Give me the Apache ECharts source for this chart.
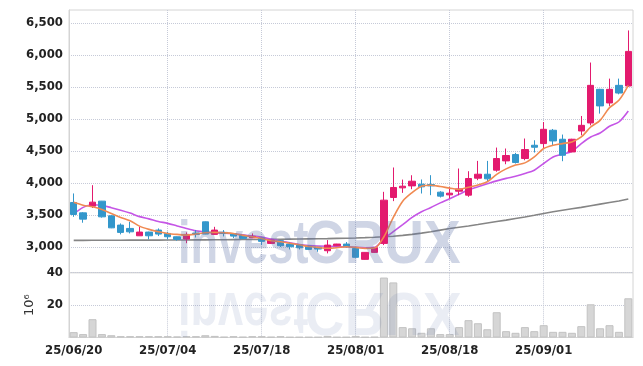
<!DOCTYPE html>
<html><head><meta charset="utf-8">
<script src="https://cdn.jsdelivr.net/npm/echarts@6/dist/echarts.min.js"></script>
<style>html,body{margin:0;padding:0;background:#fff}#c{width:643px;height:366px}</style>
</head><body><div id="c"></div>
<script>
const dates = ['25/06/20','25/06/23','25/06/24','25/06/25','25/06/26','25/06/27','25/06/30','25/07/01','25/07/02','25/07/03',
'25/07/04','25/07/07','25/07/08','25/07/09','25/07/10','25/07/11','25/07/14','25/07/15','25/07/16','25/07/17',
'25/07/18','25/07/21','25/07/22','25/07/23','25/07/24','25/07/25','25/07/28','25/07/29','25/07/30','25/07/31',
'25/08/01','25/08/04','25/08/05','25/08/06','25/08/07','25/08/08','25/08/11','25/08/12','25/08/13','25/08/14',
'25/08/18','25/08/19','25/08/20','25/08/21','25/08/22','25/08/25','25/08/26','25/08/27','25/08/28','25/08/29',
'25/09/01','25/09/02','25/09/03','25/09/04','25/09/05','25/09/08','25/09/09','25/09/10','25/09/11','25/09/12'];
const openP  = [3696,3534,3639,3717,3488,3343,3291,3176,3234,3265, 3213,3161,3125,3218,3394,3198,3229,3208,3182,3145,
                3140,3057,3099,3047,3031,3016,3000,2943,3021,3047, 2979,2808,2917,3057,3774,3924,3955,3982,3976,3857,
                3815,3872,3810,4075,4137,4200,4345,4444,4382,4589, 4615,4823,4683,4485,4812,4937,5462,5249,5524,5514];
const closeP = [3509,3436,3701,3472,3300,3229,3238,3234,3176,3203, 3161,3120,3198,3198,3203,3265,3213,3171,3135,3166,
                3089,3109,3021,3005,2989,2964,2969,3031,3047,3005, 2840,2917,2990,3732,3930,3950,4028,3940,3955,3795,
                3841,3908,4070,4137,4065,4382,4429,4320,4522,4558, 4838,4656,4433,4683,4900,5524,5203,5462,5404,6054];
const lowP   = [3472,3380,3610,3460,3295,3198,3213,3176,3120,3172, 3120,3100,3060,3150,3200,3195,3166,3140,3130,3140,
                3031,3050,3000,2963,2963,2955,2927,2902,3018,2990, 2835,2805,2912,3031,3717,3846,3903,3836,3810,3774,
                3758,3810,3784,4044,4018,4176,4293,4304,4355,4475, 4538,4589,4340,4480,4745,4900,5083,5203,5384,5498];
const highP  = [3837,3545,3966,3720,3495,3369,3394,3316,3240,3291, 3239,3165,3230,3265,3400,3316,3265,3210,3185,3213,
                3145,3112,3102,3078,3047,3020,3003,3109,3050,3078, 2982,2920,2995,3862,4242,4053,4121,4055,4122,3872,
                3940,4226,4184,4345,4345,4553,4538,4470,4694,4667, 4952,4843,4756,4690,5046,5880,5470,5629,5629,6381];
const ma5    = [3700,3654,3628,3587,3525,3463,3410,3327,3276,3238, 3213,3198,3187,3203,3223,3229,3223,3213,3182,3161,
                3135,3100,3083,3060,3035,3010,2995,2982,2990,3005, 2995,2979,2985,3161,3463,3715,3850,3950,3965,3945,
                3920,3899,3935,3970,4020,4135,4220,4280,4314,4407, 4538,4589,4615,4641,4718,4874,4978,5176,5290,5524];
const ma20   = [3515,3620,3660,3650,3615,3575,3530,3475,3440,3400, 3370,3330,3290,3255,3235,3222,3215,3205,3190,3175,
                3155,3125,3095,3065,3040,3025,3016,3012,3010,3005, 2995,2990,2995,3130,3240,3350,3463,3550,3618,3690,
                3755,3823,3894,3940,3987,4033,4072,4105,4148,4200, 4304,4407,4449,4496,4615,4718,4781,4885,4952,5124];
const ma120  = [3105,3105,3106,3106,3107,3107,3108,3108,3109,3109, 3110,3110,3111,3112,3113,3114,3115,3116,3117,3118,
                3120,3121,3122,3124,3126,3128,3130,3132,3135,3138, 3142,3147,3153,3160,3170,3183,3198,3218,3240,3265,
                3290,3310,3330,3352,3375,3398,3420,3445,3470,3497, 3525,3550,3575,3598,3620,3645,3670,3695,3720,3750];
const volume = [3.3,2.1,11.3,2.1,1.4,0.8,0.8,0.8,0.8,0.8, 0.8,0.6,0.8,0.8,1.4,1.0,0.4,0.8,0.4,0.8,
                0.8,0.4,0.8,0.3,0.3,0.3,0.3,1.0,0.3,0.3, 1.0,0.3,0.4,37,34,6.4,5.7,2.9,5.7,2.1,
                2.1,6.4,10.7,8.8,5.1,15.6,3.9,2.9,6.4,3.9, 7.6,3.5,3.5,2.9,7.0,20.5,5.7,7.6,3.5,24.2];
const priceTicks = [3000,3500,4000,4500,5000,5500,6000,6500];
const volTicks = [0,20,40];

const FONT = '"Liberation Sans Narrow","DejaVu Sans Condensed","Liberation Sans",sans-serif';
const candles = dates.map((d,i)=>[openP[i],closeP[i],lowP[i],highP[i]]);
const vSplit = {show:true, interval:(i)=> i%10===0 && i>0, alignWithLabel:true,
  lineStyle:{color:'#c6cad8', type:'dotted', width:1}};
const hSplit = {show:true, lineStyle:{color:'#c6cad8', type:'dotted', width:1}};
const fmt = v => String(v).replace(/\B(?=(\d{3})+(?!\d))/g, ',');

const wmFill = 'rgba(95,115,170,0.30)';
const wmFill2 = 'rgba(95,115,170,0.13)';
const wmFont = 'bold 61px "Liberation Sans", sans-serif';

const chart = echarts.init(document.getElementById('c'), null, {renderer:'canvas'});
chart.setOption({
  animation:false,
  backgroundColor:'#fff',
  grid:[
    {left:69, right:10, top:10, height:262.7, show:true, borderColor:'#d4d4d4', borderWidth:1},
    {left:69, right:10, top:272.7, height:64.8, show:true, borderColor:'#d4d4d4', borderWidth:1}
  ],
  xAxis:[
    {type:'category', gridIndex:0, data:dates, boundaryGap:true,
     axisLabel:{show:false}, axisTick:{show:false, alignWithLabel:true}, axisLine:{show:false}, splitLine:vSplit},
    {type:'category', gridIndex:1, data:dates, boundaryGap:true,
     axisLabel:{interval:9, color:'#222', fontSize:13, fontWeight:'bold', fontFamily:FONT, margin:7},
     axisTick:{show:false, alignWithLabel:true}, axisLine:{show:true, lineStyle:{color:'#d4d4d4'}}, splitLine:vSplit}
  ],
  yAxis:[
    {type:'value', gridIndex:0, min:2600, max:6700, scale:true,
     axisLabel:{customValues:priceTicks, formatter:fmt, color:'#222', fontSize:13, fontWeight:'bold', fontFamily:FONT, margin:6},
     axisTick:{show:false, customValues:priceTicks}, axisLine:{show:true, lineStyle:{color:'#d4d4d4'}}, splitLine:hSplit},
    {type:'value', gridIndex:1, min:0, max:40, interval:20,
     name:'10\u2076', nameLocation:'middle', nameRotate:90, nameGap:27,
     nameTextStyle:{color:'#333', fontSize:13, fontFamily:'"DejaVu Sans", sans-serif'},
     axisLabel:{formatter:v=> v===0?'':String(v), color:'#222', fontSize:13, fontWeight:'bold', fontFamily:FONT, margin:6},
     axisTick:{show:false}, axisLine:{show:true, lineStyle:{color:'#d4d4d4'}}, splitLine:hSplit}
  ],
  series:[
    {type:'line', name:'MA120', xAxisIndex:0, yAxisIndex:0, data:ma120, symbol:'none', z:3,
     lineStyle:{color:'#858585', width:1.6}},
    {type:'line', name:'MA20', xAxisIndex:0, yAxisIndex:0, data:ma20, symbol:'none', smooth:0.3, z:3,
     lineStyle:{color:'#c555e6', width:1.6}},
    {type:'candlestick', xAxisIndex:0, yAxisIndex:0, data:candles, barWidth:7, z:4,
     itemStyle:{color:'#e31a6e', color0:'#3397cb', borderColor:'#e31a6e', borderColor0:'#3397cb', borderWidth:1}},
    {type:'line', name:'MA5', xAxisIndex:0, yAxisIndex:0, data:ma5, symbol:'none', smooth:0.3, z:5,
     lineStyle:{color:'#f08a52', width:1.6}},
    {type:'bar', xAxisIndex:1, yAxisIndex:1, data:volume, barWidth:8,
     itemStyle:{color:'#d6d6d6', borderColor:'#c2c2c2', borderWidth:1}}
  ],
  graphic:[
    {type:'text', x:178, y:277, scaleX:0.74, z:100, silent:true,
     style:{text:'invest', font:wmFont, fill:wmFill, textVerticalAlign:'bottom'}},
    {type:'text', x:305, y:277, scaleX:0.9, z:100, silent:true,
     style:{text:'CRUX', font:wmFont, fill:wmFill, textVerticalAlign:'bottom'}},
    {type:'text', x:178, y:279, scaleX:0.74, scaleY:-1, z:100, silent:true,
     style:{text:'invest', font:wmFont, fill:wmFill2, textVerticalAlign:'bottom'}},
    {type:'text', x:305, y:279, scaleX:0.9, scaleY:-1, z:100, silent:true,
     style:{text:'CRUX', font:wmFont, fill:wmFill2, textVerticalAlign:'bottom'}}
  ]
});
</script></body></html>
